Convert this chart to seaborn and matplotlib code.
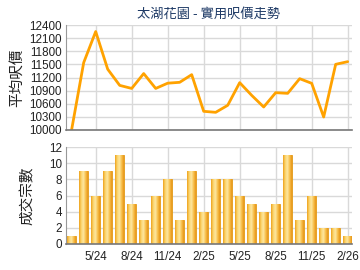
import numpy as np
import pandas as pd
import matplotlib
matplotlib.use("Agg")
import matplotlib.pyplot as plt
import seaborn as sns
from matplotlib.colors import LinearSegmentedColormap

months = ["3/24", "4/24", "5/24", "6/24", "7/24", "8/24", "9/24", "10/24", "11/24", "12/24",
          "1/25", "2/25", "3/25", "4/25", "5/25", "6/25", "7/25", "8/25", "9/25", "10/25",
          "11/25", "12/25", "1/26", "2/26"]
price = [10015, 11540, 12250, 11390, 11020, 10950, 11290, 10950, 11070, 11090,
         11265, 10427, 10404, 10564, 11082, 10792, 10526, 10853, 10838, 11173,
         11067, 10297, 11501, 11562]
volume = [1, 9, 6, 9, 11, 5, 3, 6, 8, 3, 9, 4, 8, 8, 6, 5, 4, 5, 11, 3, 6, 2, 2, 1]
xtick_labels = ["5/24", "8/24", "11/24", "2/25", "5/25", "8/25", "11/25", "2/26"]
price_ticks = [10000, 10300, 10600, 10900, 11200, 11500, 11800, 12100, 12400]
vol_ticks = [0, 2, 4, 6, 8, 10, 12]

sns.set_style("white")
plt.rcParams['font.family'] = ['Liberation Sans', 'Noto Sans CJK TC', 'DejaVu Sans']
cjk = ['Noto Sans CJK TC', 'DejaVu Sans']

df = pd.DataFrame({"month": months, "price": price, "volume": volume, "idx": np.arange(len(months))})

fig = plt.figure(figsize=(3.6, 2.7), dpi=100)
W, H = 360, 270
ax1 = fig.add_axes([66 / W, 1 - 130 / H, (352 - 66) / W, (130 - 25) / H])
ax2 = fig.add_axes([66 / W, 1 - 244 / H, (352 - 66) / W, (244 - 147) / H])

grid_c = "#d9d9d9"
spine_c = "#999999"
tick_pos = [months.index(m) for m in xtick_labels]
xlim = (-0.475, 23.36)

# Line chart
sns.lineplot(data=df, x="idx", y="price", ax=ax1, color="#ffa200", linewidth=2.0)
ax1.set_xlim(*xlim)
ax1.set_ylim(10000, 12400)
ax1.set_yticks(price_ticks)
ax1.set_yticklabels([str(v) for v in price_ticks], fontsize=8.4, color="#222222")
ax1.set_xticks(tick_pos)
ax1.set_xticklabels([])
ax1.tick_params(axis="x", length=0)
ax1.tick_params(axis="y", length=0, pad=3)
ax1.set_xlabel("")
ax1.set_ylabel("平均呎價", fontsize=10.5, family=cjk, color="#222222", labelpad=4)
ax1.grid(True, color=grid_c, linewidth=1)
ax1.set_axisbelow(True)
for s in ["top", "right"]:
    ax1.spines[s].set_visible(False)
ax1.spines["left"].set_color(spine_c)
ax1.spines["bottom"].set_color("#777777")
ax1.spines["bottom"].set_linewidth(1.2)
ax1.set_title("太湖花園 - 實用呎價走勢", fontsize=9.5, family=cjk, color="#1e3a66", pad=5)

# Bar chart
sns.barplot(data=df, x="idx", y="volume", ax=ax2, color="#f6b93b", width=0.72,
            edgecolor="#e49a14", linewidth=0.6, native_scale=True)
cmap = LinearSegmentedColormap.from_list("bar", ["#eea21c", "#fbd56e", "#fde6a0", "#f7c04b", "#e8961a"])
grad = np.linspace(0, 1, 64).reshape(1, -1)
for p in ax2.patches:
    x0, y0 = p.get_x(), p.get_y()
    w, h = p.get_width(), p.get_height()
    im = ax2.imshow(grad, cmap=cmap, extent=[x0, x0 + w, y0, y0 + h], aspect="auto", zorder=p.get_zorder() + 0.1)
    im.set_clip_path(p)
ax2.set_xlim(*xlim)
ax2.set_ylim(0, 12)
ax2.set_yticks(vol_ticks)
ax2.set_yticklabels([str(v) for v in vol_ticks], fontsize=8.4, color="#222222")
ax2.set_xticks(tick_pos)
ax2.set_xticklabels(xtick_labels, fontsize=8.4, color="#222222")
ax2.tick_params(axis="x", length=3, color="#777777", pad=2)
ax2.tick_params(axis="y", length=0, pad=3)
ax2.set_xlabel("")
ax2.set_ylabel("成交宗數", fontsize=10.5, family=cjk, color="#222222", labelpad=10)
ax2.grid(True, color=grid_c, linewidth=1)
ax2.set_axisbelow(True)
for s in ["top", "right"]:
    ax2.spines[s].set_visible(False)
ax2.spines["left"].set_color(spine_c)
ax2.spines["bottom"].set_color("#777777")
ax2.spines["bottom"].set_linewidth(1.2)

fig.align_ylabels([ax1, ax2])
fig.savefig("out.png", dpi=100)
